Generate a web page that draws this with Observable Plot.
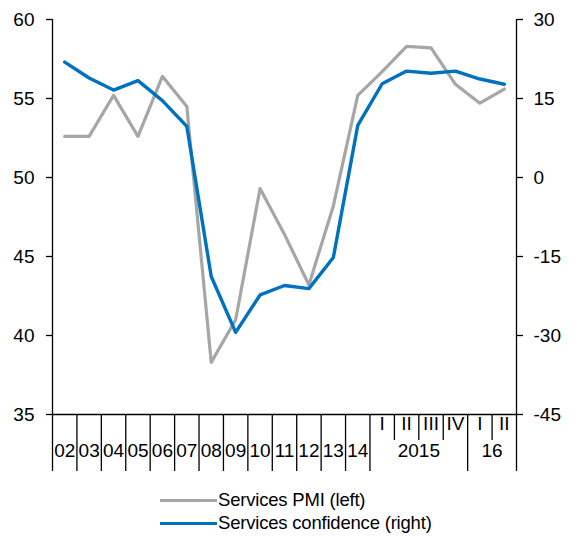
<!DOCTYPE html>
<html>
<head>
<meta charset="utf-8">
<script src="https://cdn.jsdelivr.net/npm/d3@7"></script>
<script src="https://cdn.jsdelivr.net/npm/@observablehq/plot@0.6"></script>
<style>
  body { margin: 0; background: #fff; font-family: "Liberation Sans", Arial, sans-serif; overflow: hidden; }
  #legend { position: relative; width: 575px; height: 65px; }
  .item { position: absolute; left: 160px; display: flex; align-items: center; font-size: 18.5px; color: #000; letter-spacing: -0.2px; white-space: nowrap; }
  .sw { width: 57px; height: 3px; margin-right: 1px; }
</style>
</head>
<body>
<div id="chart"></div>
<div id="legend"></div>
<script>
// Categories (years, then 2015 quarters and 2016 quarters)
const years   = ["02","03","04","05","06","07","08","09","10","11","12","13","14","2015","2015","2015","2015","16","16"];
const periods = ["","","","","","","","","","","","","","I","II","III","IV","I","II"];
// Services PMI (left axis)
const pmi = [52.6, 52.6, 55.2, 52.6, 56.4, 54.5, 38.3, 41.0, 49.3, 46.4, 43.2, 48.2, 55.2, 56.7, 58.3, 58.2, 55.9, 54.7, 55.6];
// Services confidence (right axis)
const confidence = [21.9, 18.9, 16.6, 18.4, 14.6, 9.7, -18.8, -29.4, -22.3, -20.5, -21.1, -15.2, 9.9, 17.8, 20.2, 19.8, 20.2, 18.7, 17.7];
// Axis tick values
const leftTicks  = [35, 40, 45, 50, 55, 60];
const rightTicks = [-45, -30, -15, 0, 15, 30];
const seriesNames = ["Services PMI (left)", "Services confidence (right)"];
const seriesColors = ["#A6A6A6", "#0070C0"];

const leftDomain = [35, 60], rightDomain = [-45, 30];
const toLeft = v => leftDomain[0] + (v - rightDomain[0]) * (leftDomain[1] - leftDomain[0]) / (rightDomain[1] - rightDomain[0]);
const fromLeft = v => Math.round(rightDomain[0] + (v - leftDomain[0]) * (rightDomain[1] - rightDomain[0]) / (leftDomain[1] - leftDomain[0]));

const n = years.length;
const data = years.map((y, i) => ({pos: i + 0.5, year: y, period: periods[i], pmi: pmi[i], conf: confidence[i]}));

// boundaries between categories: long where year changes, short within a year
const longB = [], shortB = [];
for (let i = 0; i < n; i++) {
  if (i === 0 || years[i] !== years[i - 1] || periods[i] === "") longB.push(i); else shortB.push(i);
}
longB.push(n);
// year group labels
const groups = [];
for (let i = 0; i < n; i++) {
  const last = groups[groups.length - 1];
  if (last && last.label === years[i] && periods[i] !== "") last.end = i + 1;
  else groups.push({label: years[i], start: i, end: i + 1});
}
groups.forEach(g => g.center = (g.start + g.end) / 2);

const fs = 19;
const chart = Plot.plot({
  width: 575,
  height: 472,
  marginLeft: 52,
  marginRight: 59,
  marginTop: 19,
  marginBottom: 58,
  style: {fontFamily: "'Liberation Sans', Arial, sans-serif", fontSize: fs + "px", color: "#000", background: "#fff", overflow: "visible"},
  x: {domain: [0, n]},
  y: {domain: leftDomain},
  marks: [
    Plot.axisY(leftTicks, {anchor: "left", tickSize: 6, tickPadding: 12, label: null, fontSize: fs, strokeWidth: 1.3}),
    Plot.axisY(leftTicks, {anchor: "right", tickSize: 6, tickPadding: 11, label: null, fontSize: fs, strokeWidth: 1.3, tickFormat: d => String(fromLeft(d))}),
    Plot.axisX(longB, {anchor: "bottom", tickSize: 57, tickFormat: () => "", label: null, strokeWidth: 1.3}),
    Plot.axisX(shortB, {anchor: "bottom", tickSize: 26, tickFormat: () => "", label: null, strokeWidth: 1.3}),
    Plot.text(data, {x: "pos", text: "period", frameAnchor: "bottom", dy: 15, fontSize: fs}),
    Plot.text(groups, {x: "center", text: "label", frameAnchor: "bottom", dy: 42, fontSize: fs, letterSpacing: -0.3}),
    Plot.ruleX([0, n], {y1: leftDomain[0], y2: leftDomain[1], stroke: "#000", strokeWidth: 1.3}),
    Plot.ruleY([leftDomain[0]], {x1: 0, x2: n, stroke: "#000", strokeWidth: 1.3}),
    Plot.line(data, {x: "pos", y: "pmi", stroke: seriesColors[0], strokeWidth: 3.2, strokeLinejoin: "round"}),
    Plot.line(data, {x: "pos", y: d => toLeft(d.conf), stroke: seriesColors[1], strokeWidth: 3.4, strokeLinejoin: "round"})
  ]
});
document.getElementById("chart").appendChild(chart);

const legend = document.getElementById("legend");
seriesNames.forEach((name, i) => {
  const item = document.createElement("div");
  item.className = "item";
  item.style.top = (i === 0 ? 17 : 40) + "px";
  const sw = document.createElement("span");
  sw.className = "sw";
  sw.style.background = seriesColors[i];
  const t = document.createElement("span");
  t.textContent = name;
  item.appendChild(sw);
  item.appendChild(t);
  legend.appendChild(item);
});
</script>
</body>
</html>
